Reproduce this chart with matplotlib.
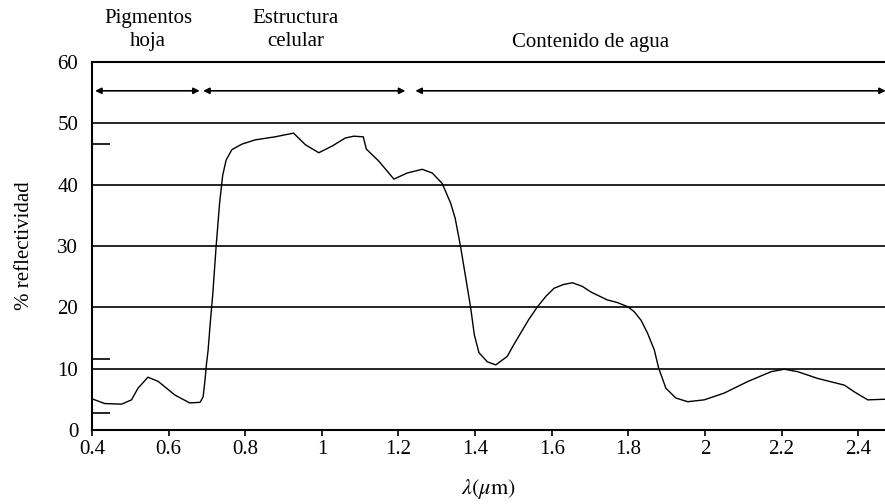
import matplotlib
matplotlib.use("Agg")
import matplotlib.pyplot as plt

plt.rcParams['font.family'] = ['Liberation Serif', 'DejaVu Serif']
plt.rcParams['mathtext.fontset'] = 'stix'

# curva de reflectividad
longitud = [0.403, 0.433, 0.477, 0.503, 0.520, 0.546, 0.573, 0.616, 0.655, 0.682,
            0.690, 0.695, 0.699, 0.703, 0.708, 0.715, 0.724, 0.733, 0.741,
            0.750, 0.765, 0.791, 0.826, 0.878, 0.926, 0.957, 0.992, 1.027, 1.061,
            1.083, 1.108, 1.116, 1.149, 1.188, 1.223, 1.262, 1.288, 1.314, 1.336,
            1.348, 1.362, 1.375, 1.388, 1.398, 1.410, 1.432, 1.454, 1.484, 1.500,
            1.519, 1.540, 1.563, 1.585, 1.606, 1.630, 1.654, 1.680, 1.702, 1.725,
            1.745, 1.770, 1.798, 1.815, 1.833, 1.850, 1.868, 1.879, 1.898, 1.924,
            1.955, 1.998, 2.050, 2.112, 2.173, 2.207, 2.242, 2.294, 2.364, 2.390,
            2.425, 2.469]
reflectividad = [5.0, 4.3, 4.2, 4.9, 6.8, 8.6, 7.9, 5.7, 4.4, 4.5,
                 5.4, 8.2, 10.9, 13.0, 17.0, 22.0, 30.0, 37.0, 41.5,
                 44.0, 45.7, 46.6, 47.3, 47.8, 48.4, 46.5, 45.2, 46.3, 47.6,
                 47.9, 47.8, 45.8, 43.8, 40.9, 41.9, 42.5, 41.9, 40.2, 37.0,
                 34.5, 29.9, 25.0, 20.1, 15.5, 12.6, 11.1, 10.6, 12.0, 13.8,
                 15.8, 18.0, 20.1, 21.8, 23.1, 23.7, 24.0, 23.4, 22.5, 21.8,
                 21.2, 20.8, 20.1, 19.3, 17.9, 15.8, 13.0, 10.1, 6.8, 5.2,
                 4.6, 4.9, 6.0, 7.9, 9.5, 9.9, 9.5, 8.4, 7.3, 6.2,
                 4.9, 5.0]

xticks = [0.4, 0.6, 0.8, 1.0, 1.2, 1.4, 1.6, 1.8, 2.0, 2.2, 2.4]
xlabels = ['0.4', '0.6', '0.8', '1', '1.2', '1.4', '1.6', '1.8', '2', '2.2', '2.4']
yticks = [0, 10, 20, 30, 40, 50, 60]
marcas_y = [2.7, 11.5, 46.6]

# regiones de la parte superior: (inicio, fin, texto, x del texto, y del texto)
regiones = [(0.408, 0.681, 'Pigmentos\nhoja', 0.546, 65.2),
            (0.690, 1.218, 'Estructura\ncelular', 0.931, 65.2),
            (1.244, 2.472, 'Contenido de agua', 1.702, 63.2)]

fig = plt.figure(figsize=(8.85, 5.04), dpi=100)
ax = fig.add_axes([0.104, 0.147, 0.896, 0.730])

ax.plot(longitud, reflectividad, color='black', lw=1.0)

for y in yticks[1:]:
    ax.axhline(y, color='black', lw=1.2, zorder=1)

ax.set_xlim(0.4, 2.47)
ax.set_ylim(0, 60)
ax.set_xticks(xticks)
ax.set_xticklabels(xlabels)
ax.set_yticks(yticks)
ax.set_yticks(marcas_y, minor=True)
ax.tick_params(axis='x', direction='out', length=4, width=1.2, labelsize=15, pad=3)
ax.tick_params(axis='y', which='major', length=0, labelsize=15, pad=10)
ax.tick_params(axis='y', which='minor', direction='in', length=13, width=1.2)

ax.spines['right'].set_visible(False)
for s in ['left', 'bottom', 'top']:
    ax.spines[s].set_linewidth(1.5)

ax.set_xlabel(r'$\lambda(\mu\mathrm{m})$', fontsize=16, labelpad=13)
ax.set_ylabel('% reflectividad', fontsize=15, labelpad=17)

for x0, x1, texto, xt, yt in regiones:
    ax.annotate('', xy=(x0, 55.3), xytext=(x1, 55.3),
                arrowprops=dict(arrowstyle='<|-|>', color='black', lw=1.2,
                                mutation_scale=9, shrinkA=0, shrinkB=0),
                annotation_clip=False)
    ax.text(xt, yt, texto, ha='center', va='center', fontsize=15,
            linespacing=1.25, clip_on=False)

fig.savefig('out.png', dpi=100)
